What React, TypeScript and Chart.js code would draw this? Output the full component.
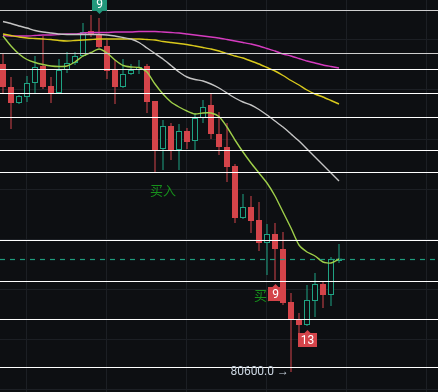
import React, { useEffect, useRef } from 'react';
import { Chart, registerables } from 'chart.js';

Chart.register(...registerables);

// ---- data (prices) ----
const opens = [86760, 86300, 85980, 86100, 86380, 86720, 86320, 86180, 86640, 86780, 86920, 87420, 87340, 87120, 86660, 86300, 86560, 86640, 86720, 86020, 85060, 85520, 85040, 85420, 85220, 85680, 85940, 85360, 85100, 84720, 83680, 83900, 83640, 83180, 83360, 83060, 82000, 81660, 81540, 82020, 82360, 82140, 82820];
const highs = [86960, 86500, 86140, 86520, 86920, 87320, 86500, 86860, 87000, 87000, 87580, 87740, 87680, 87240, 86840, 86860, 86760, 86840, 86760, 86020, 85640, 85580, 85560, 85480, 85780, 86040, 86180, 85800, 85580, 84760, 84160, 84120, 84000, 83560, 83580, 83400, 82180, 81780, 82340, 82580, 82400, 82900, 83160];
const lows = [86180, 85460, 85960, 86000, 86180, 86260, 85980, 86160, 86580, 86740, 86900, 87300, 87080, 86460, 85960, 86280, 86540, 86560, 85780, 84580, 84640, 84840, 84640, 85060, 85040, 85580, 85260, 84940, 84400, 83580, 83660, 83380, 83020, 82540, 82440, 81940, 80600, 81300, 81520, 81700, 81880, 81920, 82780];
const closes = [86300, 85980, 86120, 86380, 86700, 86300, 86180, 86640, 86780, 86920, 87400, 87340, 87100, 86620, 86300, 86560, 86640, 86700, 86000, 85040, 85520, 85040, 85420, 85200, 85680, 85900, 85360, 85100, 84700, 83680, 83900, 83620, 83180, 83360, 83060, 81980, 81660, 81540, 82040, 82360, 82140, 82860, 82870];

const maFast = [87320, 87120, 86960, 86850, 86790, 86750, 86720, 86710, 86720, 86800, 86920, 86990, 87060, 86980, 86840, 86730, 86700, 86690, 86600, 86360, 86160, 86000, 85900, 85820, 85760, 85780, 85780, 85710, 85500, 85240, 85000, 84780, 84580, 84380, 84120, 83800, 83480, 83140, 83000, 82920, 82800, 82780, 82860];
const maMid = [87610, 87570, 87520, 87480, 87430, 87400, 87380, 87360, 87350, 87350, 87350, 87350, 87350, 87340, 87320, 87290, 87260, 87190, 87080, 86970, 86860, 86730, 86600, 86500, 86450, 86420, 86360, 86280, 86180, 86080, 86000, 85940, 85850, 85740, 85620, 85500, 85360, 85220, 85060, 84900, 84740, 84580, 84420];
const maSlow = [87360, 87330, 87300, 87280, 87270, 87260, 87250, 87230, 87220, 87230, 87240, 87250, 87260, 87260, 87260, 87260, 87260, 87260, 87250, 87240, 87210, 87190, 87170, 87150, 87120, 87090, 87060, 87020, 86970, 86920, 86880, 86820, 86760, 86690, 86620, 86530, 86430, 86340, 86240, 86160, 86100, 86030, 85960];
const maLong = [87330, 87320, 87320, 87320, 87330, 87340, 87340, 87350, 87360, 87360, 87380, 87390, 87390, 87390, 87400, 87400, 87400, 87410, 87410, 87410, 87400, 87390, 87380, 87360, 87340, 87320, 87300, 87280, 87250, 87220, 87190, 87160, 87120, 87070, 87020, 86960, 86920, 86870, 86820, 86780, 86740, 86710, 86680];

const dimLevels = [87840, 86980];
const brightLevels = [86660, 86180, 85700, 85040, 84600, 83240, 82420, 81660, 80700];
const gridPrices = [87260, 86260, 85260, 84260, 83260, 82260, 81260, 80260];
const gridIndices = [3, 13, 23, 33, 43, 53];

const tdIndices = [12, 34, 38];
const tdTexts = ['9', '9', '13'];
const tdAbove = [true, false, false];
const buyIndices = [20, 33];
const buyText = '买入';

// ---- styles ----
const BG = '#0d0f12';
const GRID = '#1c1f24';
const UP = '#1fa383';
const DOWN = '#d4444a';

const decor = {
  id: 'decor',
  beforeDatasetsDraw(chart: any) {
    const { ctx, chartArea, scales } = chart;
    const { left, right, top, bottom } = chartArea;
    const x = scales.x, y = scales.y;
    ctx.save();
    ctx.strokeStyle = GRID;
    ctx.lineWidth = 1;
    gridIndices.forEach((v) => {
      const px = Math.round(x.getPixelForValue(v)) - 0.5;
      ctx.beginPath(); ctx.moveTo(px, top); ctx.lineTo(px, bottom); ctx.stroke();
    });
    gridPrices.forEach((p) => {
      const py = Math.round(y.getPixelForValue(p)) + 0.5;
      ctx.beginPath(); ctx.moveTo(left, py); ctx.lineTo(right, py); ctx.stroke();
    });
    ctx.restore();
  },
  afterDatasetsDraw(chart: any) {
    const { ctx, chartArea, scales } = chart;
    const { left, right } = chartArea;
    const x = scales.x, y = scales.y;
    ctx.save();
    // level lines
    ctx.lineWidth = 1;
    const hline = (p: number, color: string) => {
      const py = Math.round(y.getPixelForValue(p)) + 0.5;
      ctx.strokeStyle = color;
      ctx.beginPath(); ctx.moveTo(left, py); ctx.lineTo(right, py); ctx.stroke();
    };
    dimLevels.forEach((p) => hline(p, '#cfcfcf'));
    brightLevels.forEach((p) => hline(p, '#ffffff'));
    // current price dashed line
    const last = closes[closes.length - 1];
    ctx.setLineDash([5, 5]);
    ctx.strokeStyle = '#1e9c7e';
    ctx.lineWidth = 1.2;
    const lpy = Math.round(y.getPixelForValue(last)) + 0.5;
    ctx.beginPath(); ctx.moveTo(left, lpy); ctx.lineTo(right, lpy); ctx.stroke();
    ctx.setLineDash([]);

    // buy texts
    ctx.font = "13px 'Noto Sans CJK SC'";
    ctx.fillStyle = '#17901c';
    ctx.textAlign = 'center';
    ctx.textBaseline = 'middle';
    buyIndices.forEach((i) => {
      const px = x.getPixelForValue(i);
      const py = y.getPixelForValue(lows[i]) + 20;
      ctx.fillText(buyText, px, py);
    });

    // TD tags
    tdIndices.forEach((i, k) => {
      const above = tdAbove[k];
      const color = above ? '#22977b' : '#d4444a';
      const cx = x.getPixelForValue(i) + 0.5;
      const dir = above ? -1 : 1;
      const tip = y.getPixelForValue(above ? highs[i] : lows[i]) + dir * 4;
      ctx.font = "12px Roboto";
      const w = Math.max(15, ctx.measureText(tdTexts[k]).width + 6);
      const h = 14;
      ctx.fillStyle = color;
      ctx.beginPath();
      ctx.moveTo(cx, tip);
      ctx.lineTo(cx - 3.5, tip + dir * 3.5);
      ctx.lineTo(cx + 3.5, tip + dir * 3.5);
      ctx.closePath();
      ctx.fill();
      const by = above ? tip - 3 - h : tip + 3;
      ctx.fillRect(Math.round(cx - w / 2), Math.round(by), Math.round(w), h);
      ctx.fillStyle = '#ffffff';
      ctx.textAlign = 'center';
      ctx.textBaseline = 'middle';
      ctx.fillText(tdTexts[k], cx, by + h / 2 + 0.5);
    });

    // lowest price annotation
    let li = 0;
    lows.forEach((v, i) => { if (v < lows[li]) li = i; });
    const lx = x.getPixelForValue(li) - 2;
    const ly = y.getPixelForValue(lows[li]) - 0.5;
    ctx.font = '12px Roboto';
    ctx.fillStyle = '#c9d4df';
    ctx.textAlign = 'right';
    ctx.textBaseline = 'middle';
    ctx.fillText(lows[li].toFixed(1) + ' →', lx, ly);
    ctx.restore();
  },
};

export default function App() {
  const ref = useRef<HTMLCanvasElement>(null);
  useEffect(() => {
    const idx = opens.map((_, i) => i);
    const up = idx.map((i) => closes[i] >= opens[i]);
    const line = (data: number[], color: string, order: number) => ({
      type: 'line' as const,
      data: idx.map((i) => ({ x: i, y: data[i] })),
      borderColor: color,
      borderWidth: 1.4,
      pointRadius: 0,
      tension: 0.2,
      order,
    });
    const chart = new Chart(ref.current as HTMLCanvasElement, {
      type: 'bar',
      data: {
        datasets: [
          line(maFast, '#9fcf4a', 1),
          line(maMid, '#c4c4c4', 2),
          line(maSlow, '#d9c91c', 2),
          line(maLong, '#d63cc0', 3),
          {
            type: 'bar',
            data: idx.map((i) => ({ x: i, y: [opens[i], closes[i]] })),
            backgroundColor: idx.map((i) => (up[i] ? BG : DOWN)),
            borderColor: idx.map((i) => (up[i] ? UP : DOWN)),
            borderWidth: 1,
            borderSkipped: false,
            barThickness: 6,
            grouped: false,
            inflateAmount: 0,
            order: 4,
          } as any,
          {
            type: 'bar',
            data: idx.map((i) => ({ x: i, y: [lows[i], highs[i]] })),
            backgroundColor: idx.map((i) => (up[i] ? UP : DOWN)),
            borderWidth: 0,
            barThickness: 1,
            grouped: false,
            inflateAmount: 0,
            order: 5,
          } as any,
        ],
      },
      options: {
        animation: false,
        responsive: false,
        maintainAspectRatio: false,
        devicePixelRatio: 1,
        layout: { padding: 0 },
        plugins: { legend: { display: false }, tooltip: { enabled: false } },
        scales: {
          x: { type: 'linear', min: -0.375, max: 54.375, offset: false, display: false },
          y: { type: 'linear', min: 80200, max: 88040, beginAtZero: false, display: false },
        },
      } as any,
      plugins: [decor],
    });
    return () => chart.destroy();
  }, []);
  return (
    <div style={{ position: 'fixed', left: 0, top: 0, width: 438, height: 392, background: BG }}>
      <canvas ref={ref} width={438} height={392} style={{ display: 'block' }} />
    </div>
  );
}
